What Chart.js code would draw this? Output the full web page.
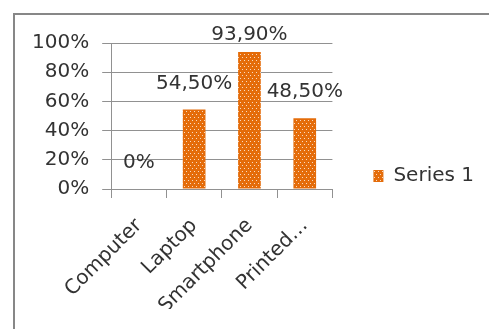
<!DOCTYPE html>
<html>
<head>
<meta charset="utf-8">
<script src="https://cdn.jsdelivr.net/npm/chart.js@4"></script>
<style>
  html, body { margin: 0; padding: 0; background: #fff; }
  #wrap { position: relative; width: 489px; height: 329px; overflow: hidden; }
  #frame { position: absolute; left: 13px; top: 13px; width: 500px; height: 400px;
           border-top: 2px solid #878787; border-left: 2px solid #878787; }
  canvas { position: absolute; left: 0; top: 0; }
</style>
</head>
<body>
<div id="wrap">
  <div id="frame"></div>
  <canvas id="myChart" width="489" height="329"></canvas>
</div>
<script>
var categories = ['Computer', 'Laptop', 'Smartphone', 'Printed…'];
var seriesName = 'Series 1';
var values = [0, 54.5, 93.9, 48.5];
var yTicks = [0, 20, 40, 60, 80, 100];

var textColor = '#333333';
var gridColor = '#919191';
var font = { family: 'DejaVu Sans', size: 20 };

// dotted orange fill like the spreadsheet pattern
function dotPattern() {
  var c = document.createElement('canvas');
  c.width = 4; c.height = 6;
  var g = c.getContext('2d');
  g.fillStyle = '#e46c0a';
  g.fillRect(0, 0, 4, 6);
  g.fillStyle = 'rgba(255,255,255,0.75)';
  g.fillRect(0, 0, 1, 1);
  g.fillRect(2, 3, 1, 1);
  return g.createPattern(c, 'repeat');
}

function fmt(v) {
  if (v === 0) return '0%';
  return v.toFixed(2).replace('.', ',') + '%';
}

var valueLabels = {
  id: 'valueLabels',
  afterDatasetsDraw: function(chart) {
    var ctx = chart.ctx;
    var meta = chart.getDatasetMeta(0);
    ctx.save();
    ctx.font = font.size + 'px ' + font.family;
    ctx.fillStyle = textColor;
    ctx.textAlign = 'center';
    ctx.textBaseline = 'middle';
    meta.data.forEach(function(bar, i) {
      var y = Math.max(bar.y - 26, chart.chartArea.top - 8);
      ctx.fillText(fmt(values[i]), bar.x, y);
    });
    ctx.restore();
  }
};

document.addEventListener('DOMContentLoaded', function() {
  var ctx = document.getElementById('myChart').getContext('2d');
  var pattern = dotPattern();
  new Chart(ctx, {
    type: 'bar',
    data: {
      labels: categories,
      datasets: [{
        label: seriesName,
        data: values,
        backgroundColor: pattern,
        borderWidth: 0,
        categoryPercentage: 1,
        barPercentage: 0.41
      }]
    },
    options: {
      responsive: false,
      animation: false,
      events: [],
      layout: { padding: { top: 43, right: 5, bottom: 20, left: 19 } },
      plugins: {
        legend: {
          position: 'right',
          maxWidth: 200,
          labels: {
            color: textColor,
            font: font,
            boxWidth: 10,
            boxHeight: 12,
            padding: 41
          }
        },
        tooltip: { enabled: false }
      },
      scales: {
        x: {
          grid: { drawOnChartArea: false, drawTicks: true, tickLength: 9, color: gridColor },
          border: { color: gridColor },
          ticks: {
            color: textColor, font: font,
            autoSkip: false, minRotation: 45, maxRotation: 45, padding: 16
          },
          afterFit: function(s) {
            s.height = 120;
            s.paddingLeft = 0;
            s.paddingRight = 0;
          }
        },
        y: {
          min: 0,
          max: 100,
          grid: { color: gridColor, tickLength: 9 },
          border: { color: gridColor },
          afterBuildTicks: function(s) {
            s.ticks = yTicks.map(function(v) { return { value: v }; });
          },
          ticks: {
            color: textColor, font: font, padding: 13,
            callback: function(value) { return value + '%'; }
          }
        }
      }
    },
    plugins: [valueLabels]
  });
});
</script>
</body>
</html>
